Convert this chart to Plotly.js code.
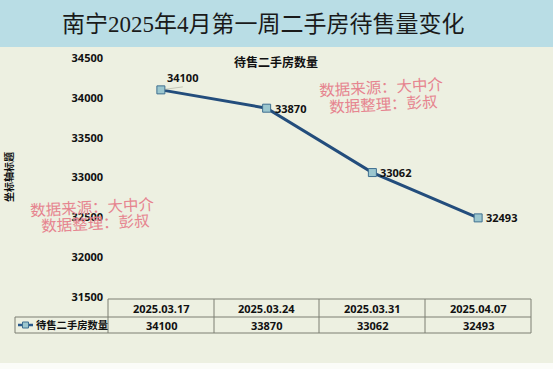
<!DOCTYPE html>
<html>
<head>
<meta charset="utf-8">
<script src="https://cdn.plot.ly/plotly-3.0.1.min.js"></script>
<style>html,body{margin:0;padding:0;background:#edf0e1;}#chart{width:553px;height:369px;}</style>
</head>
<body>
<div id="chart"></div>
<script>
// ---- data ----
const categories = ["2025.03.17", "2025.03.24", "2025.03.31", "2025.04.07"];
const seriesName = "待售二手房数量";
const values = [34100, 33870, 33062, 32493];
const yTicks = [31500, 32000, 32500, 33000, 33500, 34000, 34500];
const mainTitle = "南宁2025年4月第一周二手房待售量变化";
const yAxisTitle = "坐标轴标题";
const watermark = ["数据来源：大中介", "数据整理：彭叔"];

// ---- layout helpers (pixel -> paper) ----
const W = 553, H = 369;
const L = 108, R = 22, T = 58, B = 72;
const PW = W - L - R, PH = H - T - B;
const px = x => (x - L) / PW;
const py = y => (H - B - y) / PH;

const FONT = "Open Sans, Noto Sans CJK SC, sans-serif";
const gridColor = "#7d7f72";

const shapes = [];
const annotations = [];

// title band
shapes.push({type: "rect", xref: "paper", yref: "paper", x0: px(0), x1: px(W), y0: py(47), y1: py(0),
  fillcolor: "#b9dde5", line: {width: 0}, layer: "below"});
// bottom white strip
shapes.push({type: "rect", xref: "paper", yref: "paper", x0: px(0), x1: px(W), y0: py(H), y1: py(363),
  fillcolor: "#fbfcf8", line: {width: 0}, layer: "below"});

annotations.push({xref: "paper", yref: "paper", x: px(263), y: py(25), text: mainTitle, showarrow: false,
  font: {family: "Liberation Serif, Noto Sans CJK SC, serif", size: 23, color: "#1a1a1a"}, xanchor: "center", yanchor: "middle"});

annotations.push({xref: "paper", yref: "paper", x: px(276), y: py(62), text: "<b>" + seriesName + "</b>", showarrow: false,
  font: {family: FONT, size: 12, color: "#111"}, xanchor: "center", yanchor: "middle"});

annotations.push({xref: "paper", yref: "paper", x: px(9), y: py(177), text: "<b>" + yAxisTitle + "</b>", showarrow: false,
  textangle: -90, font: {family: FONT, size: 10, color: "#111"}, xanchor: "center", yanchor: "middle"});

// table geometry
const colX = [108, 214, 319, 425, 531];
const rowY = [299, 317, 333];
shapes.push({type: "line", xref: "paper", yref: "paper", x0: px(108), x1: px(531), y0: py(rowY[0]), y1: py(rowY[0]), line: {color: gridColor, width: 1}});
shapes.push({type: "line", xref: "paper", yref: "paper", x0: px(15), x1: px(531), y0: py(rowY[1]), y1: py(rowY[1]), line: {color: gridColor, width: 1}});
shapes.push({type: "line", xref: "paper", yref: "paper", x0: px(15), x1: px(531), y0: py(rowY[2]), y1: py(rowY[2]), line: {color: gridColor, width: 1}});
colX.forEach(x => shapes.push({type: "line", xref: "paper", yref: "paper", x0: px(x), x1: px(x), y0: py(rowY[0]), y1: py(rowY[2]), line: {color: gridColor, width: 1}}));
shapes.push({type: "line", xref: "paper", yref: "paper", x0: px(15), x1: px(15), y0: py(rowY[1]), y1: py(rowY[2]), line: {color: gridColor, width: 1}});

categories.forEach((c, i) => {
  const cx = (colX[i] + colX[i + 1]) / 2;
  annotations.push({xref: "paper", yref: "paper", x: px(cx), y: py((rowY[0] + rowY[1]) / 2), text: "<b>" + c + "</b>", showarrow: false,
    font: {family: FONT, size: 11, color: "#111"}, xanchor: "center", yanchor: "middle"});
  annotations.push({xref: "paper", yref: "paper", x: px(cx), y: py((rowY[1] + rowY[2]) / 2), text: "<b>" + values[i] + "</b>", showarrow: false,
    font: {family: FONT, size: 11, color: "#111"}, xanchor: "center", yanchor: "middle"});
});

// legend key in table
shapes.push({type: "line", xref: "paper", yref: "paper", x0: px(18), x1: px(33), y0: py(325), y1: py(325), line: {color: "#2a5a8c", width: 2.5}});
shapes.push({type: "rect", xref: "paper", yref: "paper", x0: px(22.5), x1: px(28.5), y0: py(328), y1: py(322), fillcolor: "#9cc7cf", line: {color: "#3f6f90", width: 1}});
annotations.push({xref: "paper", yref: "paper", x: px(34), y: py(325), text: "<b>" + seriesName + "</b>", showarrow: false,
  font: {family: FONT, size: 10.3, color: "#111"}, xanchor: "left", yanchor: "middle"});

// data labels
values.forEach((v, i) => {
  if (i === 0) {
    annotations.push({x: categories[i], y: v, text: "<b>" + v + "</b>", showarrow: true, arrowhead: 0, arrowwidth: 0.6,
      arrowcolor: "#a9ab9c", ax: 22, ay: -3, standoff: 4, font: {family: FONT, size: 11, color: "#111"}, yanchor: "bottom"});
  } else {
    annotations.push({x: categories[i], y: v, text: "<b>" + v + "</b>", showarrow: false, xanchor: "left", xshift: 6,
      font: {family: FONT, size: 11, color: "#111"}, yanchor: "middle"});
  }
});

// watermarks
const wmFont = {family: "Noto Sans CJK SC, serif", size: 15.5, color: "#e6848f"};
[[381, 86, 383, 103], [92, 206, 95, 222]].forEach(p => {
  annotations.push({xref: "paper", yref: "paper", x: px(p[0]), y: py(p[1]), text: watermark[0], showarrow: false, textangle: -3, font: wmFont, xanchor: "center", yanchor: "middle"});
  annotations.push({xref: "paper", yref: "paper", x: px(p[2]), y: py(p[3]), text: watermark[1], showarrow: false, textangle: -3, font: wmFont, xanchor: "center", yanchor: "middle"});
});

const trace = {
  type: "scatter", mode: "lines+markers", x: categories, y: values, name: seriesName,
  line: {color: "#234d7c", width: 3},
  marker: {symbol: "square", size: 8, color: "#9cc7cf", line: {color: "#3f6f90", width: 1}},
  cliponaxis: false, hoverinfo: "skip"
};

const layout = {
  width: W, height: H,
  margin: {l: L, r: R, t: T, b: B, pad: 0},
  paper_bgcolor: "#edf0e1", plot_bgcolor: "rgba(0,0,0,0)",
  showlegend: false,
  xaxis: {type: "category", range: [-0.5, 3.5], showticklabels: false, showgrid: false, zeroline: false, showline: false, ticks: ""},
  yaxis: {range: [31500, 34500], tickvals: yTicks, ticktext: yTicks.map(t => "<b>" + t + "</b>"), showgrid: false, zeroline: false, showline: false,
    ticks: "", ticklabelstandoff: 4, tickfont: {family: FONT, size: 11, color: "#111"}},
  shapes: shapes, annotations: annotations
};

Plotly.newPlot("chart", [trace], layout, {displayModeBar: false, staticPlot: true});
</script>
</body>
</html>
